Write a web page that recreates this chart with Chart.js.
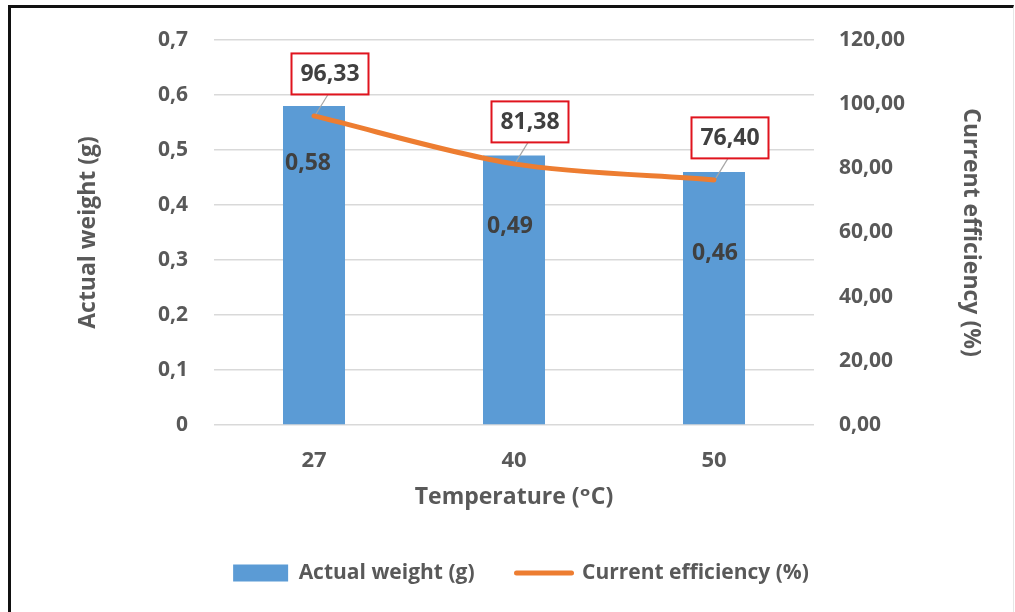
<!DOCTYPE html>
<html>
<head>
<meta charset="utf-8">
<script src="https://cdn.jsdelivr.net/npm/chart.js@4.4.1/dist/chart.umd.min.js"></script>
<style>
  html, body { margin: 0; padding: 0; background: #ffffff; }
  #wrap { position: relative; width: 1015px; height: 612px; overflow: hidden; }
  #chart { position: absolute; left: 0; top: 0; }
  #frame {
    position: absolute; left: 8px; top: 5px; right: 1px; bottom: -10px;
    border-left: 3px solid #111; border-top: 3px solid #111; border-right: 1px solid #e6e6e6;
    pointer-events: none;
  }
</style>
</head>
<body>
<div id="wrap">
  <canvas id="chart" width="1015" height="612"></canvas>
  <div id="frame"></div>
</div>
<script>
// Deposition results per bath temperature
const temperatures = ['27', '40', '50'];
const actualWeight = [0.58, 0.49, 0.46];          // g
const currentEfficiency = [96.33, 81.38, 76.40];  // %

const weightTicks = [0, 0.1, 0.2, 0.3, 0.4, 0.5, 0.6, 0.7];
const efficiencyTicks = [0, 20, 40, 60, 80, 100, 120];

// Hand placement of the weight labels inside the bars (px below bar top, px sideways)
const weightLabelDrop = [57, 71, 81];
const weightLabelShift = [-6, -4, 1];

const FONT = "'Open Sans', 'DejaVu Sans', sans-serif";
const TEXT = '#595959';
const LABEL = '#404040';
const BLUE = '#5B9BD5';
const ORANGE = '#ED7D31';

const comma = (v, d) => v.toFixed(d).replace('.', ',');

const valueLabels = {
  id: 'valueLabels',
  afterDatasetsDraw(chart) {
    const ctx = chart.ctx;
    ctx.save();
    ctx.textAlign = 'center';
    ctx.textBaseline = 'middle';
    ctx.font = `bold 23px ${FONT}`;

    // weight values inside the bars
    ctx.fillStyle = LABEL;
    const bars = chart.getDatasetMeta(0).data;
    bars.forEach((bar, i) => {
      ctx.fillText(comma(actualWeight[i], 2), bar.x + weightLabelShift[i], bar.y + weightLabelDrop[i]);
    });

    // efficiency values in red callout boxes with leader lines
    const pts = chart.getDatasetMeta(1).data;
    pts.forEach((pt, i) => {
      const txt = comma(currentEfficiency[i], 2);
      const w = 77, h = 41;
      const cx = pt.x + 16, cy = pt.y - 42;
      ctx.strokeStyle = '#a6a6a6';
      ctx.lineWidth = 1.2;
      ctx.beginPath();
      ctx.moveTo(pt.x + 2, pt.y - 2);
      ctx.lineTo(cx - 2, cy + h / 2);
      ctx.stroke();
      ctx.fillStyle = '#ffffff';
      ctx.fillRect(cx - w / 2, cy - h / 2, w, h);
      ctx.strokeStyle = '#e0141e';
      ctx.lineWidth = 2;
      ctx.strokeRect(cx - w / 2, cy - h / 2, w, h);
      ctx.fillStyle = LABEL;
      ctx.fillText(txt, cx, cy + 1);
    });
    ctx.restore();
  }
};

new Chart(document.getElementById('chart'), {
  data: {
    labels: temperatures,
    datasets: [
      {
        type: 'bar',
        label: 'Actual weight (g)',
        data: actualWeight,
        yAxisID: 'yW',
        backgroundColor: BLUE,
        borderWidth: 0,
        categoryPercentage: 1,
        barPercentage: 0.31,
        order: 1
      },
      {
        type: 'line',
        label: 'Current efficiency (%)',
        data: currentEfficiency,
        yAxisID: 'yE',
        borderColor: ORANGE,
        backgroundColor: ORANGE,
        borderWidth: 5,
        borderCapStyle: 'round',
        borderJoinStyle: 'round',
        tension: 0.3,
        pointRadius: 0,
        pointHoverRadius: 0,
        order: 0
      }
    ]
  },
  options: {
    responsive: false,
    animation: false,
    layout: { padding: { left: 27, right: 0, top: 40, bottom: 18.5 } },
    plugins: {
      tooltip: { enabled: false },
      legend: {
        position: 'bottom',
        labels: {
          usePointStyle: true,
          pointStyleWidth: 55,
          boxHeight: 17,
          padding: 42,
          color: TEXT,
          font: { family: FONT, size: 21, weight: 'bold' },
          sort: (a, b) => a.datasetIndex - b.datasetIndex,
          generateLabels(chart) {
            const items = Chart.defaults.plugins.legend.labels.generateLabels(chart);
            items.forEach(it => {
              if (it.datasetIndex === 0) { it.pointStyle = 'rect'; it.lineWidth = 0; }
              else { it.pointStyle = 'line'; it.lineWidth = 5; it.strokeStyle = ORANGE; it.lineCap = 'round'; }
            });
            return items;
          }
        }
      }
    },
    scales: {
      x: {
        grid: { display: false, drawTicks: false },
        border: { display: false },
        ticks: { color: TEXT, padding: 23, font: { family: FONT, size: 22, weight: 'bold' } },
        title: {
          display: true,
          text: 'Temperature (ᵒC)',
          color: TEXT,
          padding: { top: 0, bottom: 9.7 },
          font: { family: FONT, size: 23, weight: 'bold' }
        },
        afterFit(s) { s.height = 95.5; }
      },
      yW: {
        position: 'left',
        min: 0, max: 0.7,
        afterBuildTicks(s) { s.ticks = weightTicks.map(v => ({ value: v })); },
        grid: { color: '#d9d9d9', lineWidth: 1.5, drawTicks: false },
        border: { display: false },
        ticks: {
          color: TEXT, padding: 26,
          font: { family: FONT, size: 21, weight: 'bold' },
          callback: v => (v === 0 ? '0' : comma(v, 1))
        },
        title: {
          display: true,
          text: 'Actual weight (g)',
          color: TEXT,
          padding: { top: 47.2, bottom: 0 },
          font: { family: FONT, size: 23, weight: 'bold' }
        },
        afterFit(s) { s.width = 187; }
      },
      yE: {
        position: 'right',
        min: 0, max: 120,
        afterBuildTicks(s) { s.ticks = efficiencyTicks.map(v => ({ value: v })); },
        grid: { drawOnChartArea: false, drawTicks: false },
        border: { display: false },
        ticks: {
          color: TEXT, padding: 25,
          font: { family: FONT, size: 21, weight: 'bold' },
          callback: v => comma(v, 2)
        },
        title: {
          display: true,
          text: 'Current efficiency (%)',
          color: TEXT,
          padding: { top: 30.2, bottom: 0 },
          font: { family: FONT, size: 23, weight: 'bold' }
        },
        afterFit(s) { s.width = 201; }
      }
    }
  },
  plugins: [valueLabels]
});
</script>
</body>
</html>
